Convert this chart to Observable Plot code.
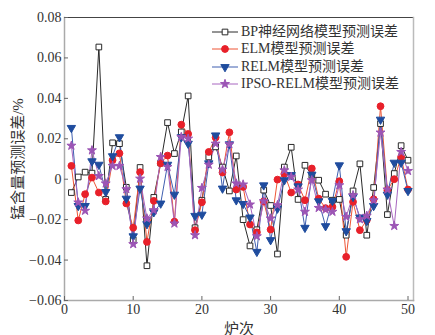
<!DOCTYPE html>
<html><head><meta charset="utf-8">
<script src="https://cdn.jsdelivr.net/npm/d3@7"></script>
<script src="https://cdn.jsdelivr.net/npm/@observablehq/plot@0.6"></script>
<style>
body{margin:0;background:#fff;}
#wrap{position:relative;width:435px;height:335px;font-family:"Liberation Serif","Noto Sans CJK SC",serif;}
#legend{position:absolute;left:212px;top:23px;font-size:14px;color:#333;line-height:1;}
.row{display:flex;align-items:center;height:17.5px;white-space:nowrap;}
.row svg{margin-right:3px;flex:none;}
svg g[aria-label="y-axis label"], svg g[aria-label="x-axis label"]{font-size:15px;}
</style></head><body><div id="wrap"><div id="legend"></div></div>
<script>
const runs = [1,2,3,4,5,6,7,8,9,10,11,12,13,14,15,16,17,18,19,20,21,22,23,24,25,26,27,28,29,30,31,32,33,34,35,36,37,38,39,40,41,42,43,44,45,46,47,48,49,50];
const seriesNames = ["BP神经网络模型预测误差","ELM模型预测误差","RELM模型预测误差","IPSO-RELM模型预测误差"];
const bp = [-0.0066,0.0011,0.0035,0.003,0.0654,-0.010,0.018,0.0176,-0.004,-0.030,0.0058,-0.0428,-0.009,0.008,0.028,0.0127,0.0234,0.0412,-0.024,-0.0104,0.011,0.016,0.006,-0.0058,0.0115,-0.020,-0.033,-0.025,-0.0054,-0.013,-0.037,0.006,0.0158,-0.010,0.0069,0.002,-0.0005,-0.0074,-0.0104,-0.010,-0.0277,-0.0058,0.0076,-0.0277,-0.0041,0.0275,-0.0175,0.0028,0.0166,0.0094];
const elm = [0.0066,-0.0204,-0.0074,0.0008,-0.0066,-0.011,0.0094,0.0128,-0.012,-0.024,0.0035,-0.031,-0.0107,0.0079,0.0117,-0.021,0.027,0.0224,-0.0252,-0.0114,0.0135,0.0206,0.0033,0.0232,-0.0051,-0.0038,-0.0224,-0.0263,-0.011,-0.0249,-0.0002,0.0026,-0.0066,-0.0026,-0.0104,0.0053,-0.0096,-0.0143,-0.0137,-0.001,-0.0384,-0.0112,-0.0252,-0.0203,-0.0099,0.0361,-0.0054,0.0,0.011,-0.0051];
const relm = [0.0254,-0.0132,-0.0132,0.0089,0.0072,-0.0063,0.0114,0.0208,-0.0096,-0.0282,-0.0046,-0.0222,-0.0163,-0.012,0.0072,-0.0076,0.0208,0.0176,-0.0181,-0.0175,0.0079,0.0217,-0.0046,0.0173,-0.0104,-0.0122,-0.0189,-0.0359,-0.003,-0.0301,-0.0145,-0.0005,0.0021,-0.0035,-0.024,0.0023,-0.0109,-0.0232,-0.0107,0.0069,-0.0257,-0.0087,-0.0189,-0.0206,-0.0132,0.0295,-0.0076,0.0082,0.0082,-0.0058];
const ipso = [0.0166,-0.0115,-0.0156,0.0143,0.0016,-0.0021,0.0066,0.0066,-0.0049,-0.0321,0.0003,-0.0194,-0.0153,0.011,0.0061,-0.0219,0.0209,0.0201,-0.0277,-0.0043,0.0072,0.0176,0.0048,0.0173,-0.0021,-0.0026,-0.0125,-0.0282,-0.0109,-0.0194,-0.0128,0.0044,0.0012,-0.0051,-0.0161,-0.0005,-0.0142,-0.015,-0.0161,-0.003,-0.0186,-0.0079,-0.0198,-0.0181,-0.0104,0.0231,-0.0051,-0.0231,0.0135,0.0041];
const xTicks = [0,10,20,30,40,50];
const yTicks = [-0.06,-0.04,-0.02,0,0.02,0.04,0.06,0.08];

const styles = [
  {vals: bp,   line:"#2a2a2a", symbol:"square",    fill:"#fff",    stroke:"#2a2a2a", r:3.2, rotate:0},
  {vals: elm,  line:"#ee5535", symbol:"circle",    fill:"#e8202a", stroke:"#e8202a", r:3.4, rotate:0},
  {vals: relm, line:"#3f5fb0", symbol:"triangle2", fill:"#1f4c9e", stroke:"#1f4c9e", r:4.0, rotate:180},
  {vals: ipso, line:"#a866c0", symbol:"star",      fill:"#9c55b5", stroke:"#9c55b5", r:2.8, rotate:0}
];

const marks = [];
styles.forEach((s) => {
  const rows = runs.map((x, i) => ({x, y: s.vals[i]}));
  marks.push(Plot.line(rows, {x:"x", y:"y", stroke:s.line, strokeWidth:1}));
});
styles.forEach((s) => {
  const rows = runs.map((x, i) => ({x, y: s.vals[i]}));
  marks.push(Plot.dot(rows, {x:"x", y:"y", symbol:s.symbol, r:s.r, fill:s.fill, stroke:s.stroke, strokeWidth:1, rotate:s.rotate}));
});

const fmt = d => d === 0 ? "0" : d3.format(".2f")(d);

const chart = Plot.plot({
  width: 435, height: 335,
  marginLeft: 64, marginRight: 22, marginTop: 17, marginBottom: 35,
  style: {fontFamily: '"Liberation Serif","Noto Sans CJK SC",serif', fontSize: "14px", color:"#333", background:"#fff"},
  x: {domain: [0, 50.8]},
  y: {domain: [-0.06, 0.08]},
  marks: [
    Plot.frame({anchor:"top", stroke:"#444"}),
    Plot.frame({anchor:"right", stroke:"#bbb", strokeWidth:1.5}),
    Plot.frame({anchor:"left", stroke:"#aaa", strokeWidth:1.5}),
    Plot.frame({anchor:"bottom", stroke:"#aaa", strokeWidth:1.5}),
    Plot.axisX({ticks: xTicks, tickSize: -4, tickPadding: 8, fontSize: 14, label: "炉次", labelAnchor: "center", labelArrow: "none", labelOffset: 33, stroke:"#666"}),
    Plot.axisY({ticks: yTicks, tickSize: -4, tickPadding: 7, tickFormat: fmt, fontSize: 14, label: "锰含量预测误差/%", labelAnchor: "center", labelArrow: "none", labelOffset: 52, stroke:"#666"}),
    ...marks
  ]
});
document.getElementById("wrap").prepend(chart);

// Legend
const legend = document.getElementById("legend");
const symPaths = {
  square: d3.symbol(d3.symbolSquare, Math.PI*3.2*3.2)(),
  circle: d3.symbol(d3.symbolCircle, Math.PI*3.4*3.4)(),
  triangle2: d3.symbol(d3.symbolTriangle2, Math.PI*4*4)(),
  star: d3.symbol(d3.symbolStar, Math.PI*2.8*2.8)()
};
styles.forEach((s, i) => {
  const row = document.createElement("div");
  row.className = "row";
  row.innerHTML = `<svg width="26" height="12"><line x1="0" x2="26" y1="6" y2="6" stroke="${s.line}" stroke-width="1"/><path d="${symPaths[s.symbol]}" transform="translate(13,6) rotate(${s.rotate})" fill="${s.fill}" stroke="${s.stroke}"/></svg><span>${seriesNames[i]}</span>`;
  legend.appendChild(row);
});
</script>
</body></html>
